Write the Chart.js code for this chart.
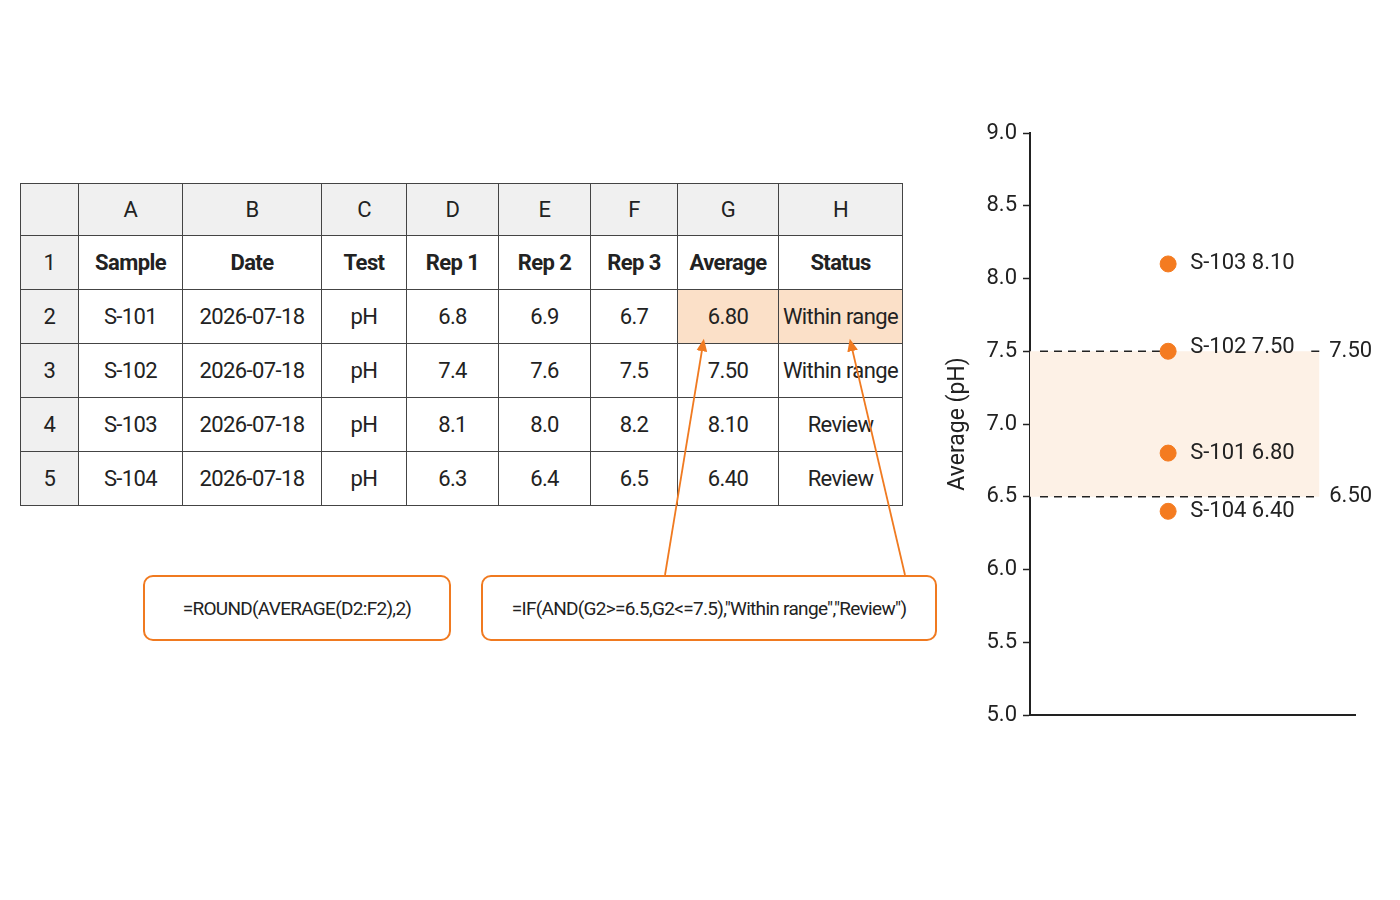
<!DOCTYPE html>
<html><head><meta charset="utf-8">
<script src="https://cdn.jsdelivr.net/npm/chart.js@4"></script>
<style>
body{margin:0;width:1400px;height:900px;background:#fff;position:relative;font-family:Roboto,sans-serif;color:#222;overflow:hidden}
table{position:absolute;left:20px;top:183px;border-collapse:collapse;font-size:22px;table-layout:fixed;width:882px;letter-spacing:-0.6px}
td{border:1.5px solid #444;text-align:center;padding:0;height:53px;white-space:nowrap;overflow:visible}
tr.h td{background:#f0f0f0;height:51px}
td.rn{background:#f0f0f0}
tr.b td{font-weight:bold}
td.hl{background:#fbe0c8}
.fb{position:absolute;top:575px;height:62px;border:2px solid #f07a20;border-radius:10px;font-size:19px;letter-spacing:-0.7px;white-space:nowrap;display:flex;align-items:center;justify-content:center;background:#fff}
#c{position:absolute;left:940px;top:100px}
svg{position:absolute;left:0;top:0}
</style></head><body>
<table id="t"></table>
<div class="fb" style="left:143px;width:304px">=ROUND(AVERAGE(D2:F2),2)</div>
<div class="fb" style="left:481px;width:452px">=IF(AND(G2&gt;=6.5,G2&lt;=7.5),"Within range","Review")</div>
<svg width="1400" height="900"><defs><marker id="ar" markerWidth="8" markerHeight="8" refX="4" refY="4" orient="auto"><path d="M0,1 L7,4 L0,7z" fill="#f07a20"/></marker></defs>
<line x1="665" y1="575" x2="703" y2="344" stroke="#f07a20" stroke-width="1.8" marker-end="url(#ar)"/>
<line x1="905" y1="575" x2="851" y2="344" stroke="#f07a20" stroke-width="1.8" marker-end="url(#ar)"/></svg>
<canvas id="c" width="440" height="650" style="width:440px;height:650px"></canvas>
<script>
const colLetters=["","A","B","C","D","E","F","G","H"];
const colWidths=[58,104,139,85,92,92,87,101,124];
const headers=["Sample","Date","Test","Rep 1","Rep 2","Rep 3","Average","Status"];
const samples=["S-101","S-102","S-103","S-104"];
const dates=["2026-07-18","2026-07-18","2026-07-18","2026-07-18"];
const tests=["pH","pH","pH","pH"];
const rep1=["6.8","7.4","8.1","6.3"];
const rep2=["6.9","7.6","8.0","6.4"];
const rep3=["6.7","7.5","8.2","6.5"];
const averages=[6.80,7.50,8.10,6.40];
const statuses=["Within range","Within range","Review","Review"];
const yTicks=[5.0,5.5,6.0,6.5,7.0,7.5,8.0,8.5,9.0];
const rangeLow=6.5, rangeHigh=7.5;

let h='<colgroup>'+colWidths.map(w=>`<col style="width:${w}px">`).join('')+'</colgroup>';
h+='<tr class="h">'+colLetters.map(l=>`<td>${l}</td>`).join('')+'</tr>';
h+='<tr class="b"><td class="rn" style="font-weight:normal">1</td>'+headers.map(x=>`<td>${x}</td>`).join('')+'</tr>';
samples.forEach((s,i)=>{
 const hl=i==0?' class="hl"':'';
 h+=`<tr><td class="rn">${i+2}</td><td>${s}</td><td>${dates[i]}</td><td>${tests[i]}</td><td>${rep1[i]}</td><td>${rep2[i]}</td><td>${rep3[i]}</td><td${hl}>${averages[i].toFixed(2)}</td><td${hl}>${statuses[i]}</td></tr>`;
});
document.getElementById('t').innerHTML=h;

const FONT='Roboto, sans-serif';
const bandPlugin={id:'band',beforeDatasetsDraw(c){
 const {ctx,scales:{x,y}}=c;
 const xl=x.getPixelForValue(0),xr=x.getPixelForValue(0.89);
 const px=x.getPixelForValue(0.425);
 ctx.save();ctx.fillStyle='#fdf1e6';
 ctx.fillRect(xl,y.getPixelForValue(rangeHigh),xr-xl,y.getPixelForValue(rangeLow)-y.getPixelForValue(rangeHigh));
 ctx.strokeStyle='#222';ctx.lineWidth=1.6;ctx.setLineDash([8,6]);
 [rangeHigh,rangeLow].forEach(v=>{const py=y.getPixelForValue(v);
  const hit=averages.some(a=>Math.abs(a-v)<0.05);
  ctx.beginPath();ctx.moveTo(xl+10,py);
  if(hit){ctx.lineTo(px,py);ctx.moveTo(xr-8,py);}
  ctx.lineTo(xr,py);ctx.stroke();});
 ctx.setLineDash([]);ctx.fillStyle='#222';ctx.font='22px '+FONT;ctx.textBaseline='middle';
 [rangeHigh,rangeLow].forEach(v=>{ctx.fillText(v.toFixed(2),xr+10,y.getPixelForValue(v));});
 ctx.restore();
},afterDatasetsDraw(c){
 const {ctx}=c;const m=c.getDatasetMeta(0);
 ctx.save();ctx.fillStyle='#222';ctx.font='22px '+FONT;ctx.textBaseline='middle';
 m.data.forEach((p,i)=>ctx.fillText(samples[i]+' '+averages[i].toFixed(2),p.x+22,p.y-(Math.abs(averages[i]-rangeHigh)<0.05?4:0)));
 ctx.restore();
}};
new Chart(document.getElementById('c'),{type:'scatter',
 data:{datasets:[{data:averages.map(v=>({x:0.425,y:v})),backgroundColor:'#f47b20',borderColor:'#f47b20',pointRadius:8,pointHoverRadius:8}]},
 options:{responsive:false,animation:false,events:[],layout:{padding:{top:33,right:25}},
  plugins:{legend:{display:false},tooltip:{enabled:false}},
  scales:{
   x:{min:0,max:1,ticks:{display:false},grid:{display:false},border:{color:'#222',width:2},afterFit(s){s.height=35;}},
   y:{min:5,max:9,afterBuildTicks(s){s.ticks=yTicks.map(v=>({value:v}));},
    ticks:{color:'#222',font:{family:FONT,size:22},callback:v=>v.toFixed(1),padding:6},
    grid:{drawOnChartArea:false,tickLength:7,color:'#222',tickWidth:1.5},border:{color:'#222',width:2},
    title:{display:true,text:'Average (pH)',color:'#222',font:{family:FONT,size:23}},
    afterFit(s){s.width=90;}}
  }},plugins:[bandPlugin]});
</script></body></html>
